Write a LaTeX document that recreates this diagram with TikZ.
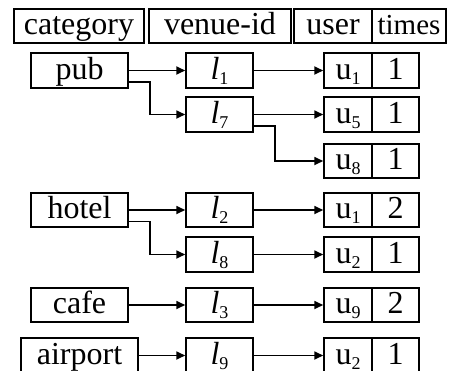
\documentclass[tikz,border=0pt]{standalone}
\usepackage{fontspec}
\setmainfont{Liberation Serif}
\usetikzlibrary{arrows.meta}
\newcommand{\sbx}[2]{#1\raisebox{-5pt}{\fontsize{18}{18}\selectfont #2}}
\tikzset{
  cell/.style={draw, line width=1.5pt, inner sep=0pt, anchor=center,
    font=\fontsize{32}{34}\selectfont, text height=23pt, text depth=6pt},
  arr/.style={line width=1.7pt, -{Triangle[length=9pt,width=8pt]}},
}
\begin{document}
\begin{tikzpicture}[x=1pt,y=-1pt]
\useasboundingbox (0,0) rectangle (452,370);
\clip (0,0) rectangle (452,370);
% header
\node[cell, minimum width=130pt, minimum height=34pt] (hcat) at (79,26) {category};
\node[cell, minimum width=142pt, minimum height=34pt] (hven) at (220,26) {venue-id};
\node[cell, minimum width=78pt, minimum height=34pt] (husr) at (333,26) {user};
\node[cell, minimum width=74pt, minimum height=34pt, font=\fontsize{29}{32}\selectfont] (htim) at (409,26) {times};
% left column
\node[cell, minimum width=97pt, minimum height=35pt] (pub) at (79.5,70.5) {pub};
\node[cell, minimum width=97pt, minimum height=34pt] (hotel) at (79.5,210) {hotel};
\node[cell, minimum width=97pt, minimum height=34pt] (cafe) at (79.5,305) {cafe};
\node[cell, minimum width=117pt, minimum height=35pt] (airport) at (79.5,355.5) {airport};
% venue column
\node[cell, minimum width=67pt, minimum height=35pt] (l1) at (219.5,70.5) {\sbx{\textit{l}}{1}};
\node[cell, minimum width=67pt, minimum height=35pt] (l7) at (219.5,114.5) {\sbx{\textit{l}}{7}};
\node[cell, minimum width=67pt, minimum height=34pt] (l2) at (219.5,210) {\sbx{\textit{l}}{2}};
\node[cell, minimum width=67pt, minimum height=35pt] (l8) at (219.5,254.5) {\sbx{\textit{l}}{8}};
\node[cell, minimum width=67pt, minimum height=34pt] (l3) at (219.5,305) {\sbx{\textit{l}}{3}};
\node[cell, minimum width=67pt, minimum height=35pt] (l9) at (219.5,355.5) {\sbx{\textit{l}}{9}};
% user / times
\node[cell, minimum width=48pt, minimum height=35pt] (ua) at (348,70.5) {\sbx{u}{1}};
\node[cell, minimum width=47pt, minimum height=35pt] (ta) at (395.5,70.5) {1};
\node[cell, minimum width=48pt, minimum height=35pt] (ub) at (348,114.5) {\sbx{u}{5}};
\node[cell, minimum width=47pt, minimum height=35pt] (tb) at (395.5,114.5) {1};
\node[cell, minimum width=48pt, minimum height=34pt] (uc) at (348,161) {\sbx{u}{8}};
\node[cell, minimum width=47pt, minimum height=34pt] (tc) at (395.5,161) {1};
\node[cell, minimum width=48pt, minimum height=34pt] (ud) at (348,210) {\sbx{u}{1}};
\node[cell, minimum width=47pt, minimum height=34pt] (td) at (395.5,210) {2};
\node[cell, minimum width=48pt, minimum height=35pt] (ue) at (348,254.5) {\sbx{u}{2}};
\node[cell, minimum width=47pt, minimum height=35pt] (te) at (395.5,254.5) {1};
\node[cell, minimum width=48pt, minimum height=34pt] (uf) at (348,305) {\sbx{u}{9}};
\node[cell, minimum width=47pt, minimum height=34pt] (tf) at (395.5,305) {2};
\node[cell, minimum width=48pt, minimum height=35pt] (ug) at (348,355.5) {\sbx{u}{2}};
\node[cell, minimum width=47pt, minimum height=35pt] (tg) at (395.5,355.5) {1};
% connectors
\draw[arr] (pub.east) -- (l1.west);
\draw[arr] ([yshift=-11.5pt]pub.east) -- ++(21,0) |- (l7.west);
\draw[arr] (l1.east) -- (ua.west);
\draw[arr] (l7.east) -- (ub.west);
\draw[arr] ([yshift=-11.5pt]l7.east) -- ++(21,0) |- (uc.west);
\draw[arr] (hotel.east) -- (l2.west);
\draw[arr] ([yshift=-11.5pt]hotel.east) -- ++(21,0) |- (l8.west);
\draw[arr] (l2.east) -- (ud.west);
\draw[arr] (l8.east) -- (ue.west);
\draw[arr] (cafe.east) -- (l3.west);
\draw[arr] (l3.east) -- (uf.west);
\draw[arr] (airport.east) -- (l9.west);
\draw[arr] (l9.east) -- (ug.west);
\end{tikzpicture}
\end{document}
